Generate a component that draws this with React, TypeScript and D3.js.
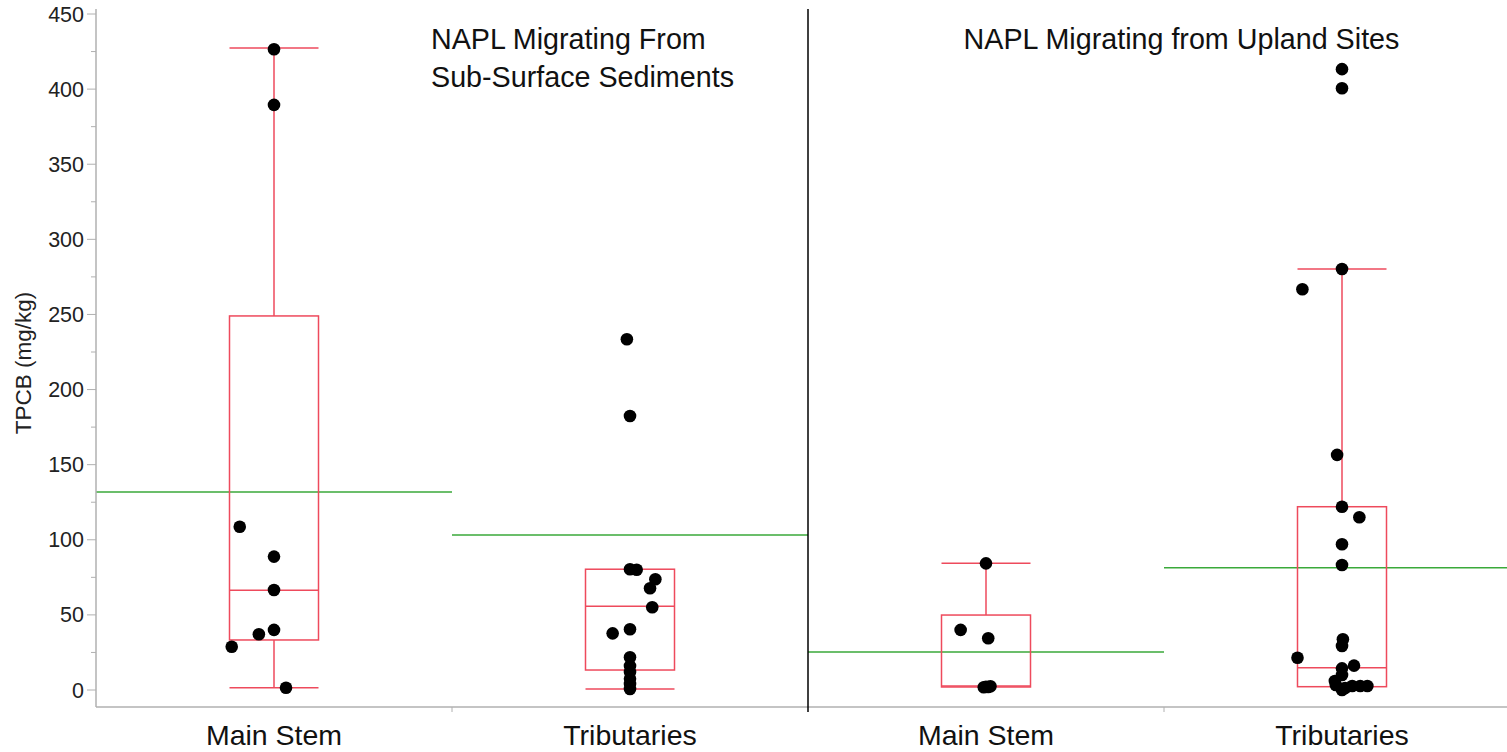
import React, { useEffect, useRef } from "react";
import * as d3 from "d3";

// categories (two panels x two groups)
const groups = ["subMain", "subTrib", "upMain", "upTrib"];
const groupLabels = ["Main Stem", "Tributaries", "Main Stem", "Tributaries"];

// observed TPCB values (mg/kg) and horizontal jitter (in box half-widths)
const subMainValues = [426.5, 389.5, 108.7, 88.8, 66.6, 40, 37.1, 28.8, 1.5];
const subMainJitter = [0, 0, -0.77, 0, 0, 0, -0.34, -0.95, 0.27];

const subTribValues = [233.5, 182.4, 80.4, 80, 73.7, 67.7, 55.1, 37.7, 40.4, 21.8, 16, 12, 7.5, 4, 0.7];
const subTribJitter = [-0.07, 0, 0, 0.15, 0.57, 0.45, 0.5, -0.39, 0, 0, 0, 0, 0, 0, 0];

const upMainValues = [84.3, 40, 34.4, 2.2, 2.5, 2, 1.8];
const upMainJitter = [0, -0.57, 0.05, 0, 0.1, 0.05, -0.05];

const upTribValues = [
  413.3, 400.6, 280.3, 266.8, 156.5, 122, 115, 97, 83.2, 33.8, 29.3, 21.5, 16.2, 14.4,
  10, 6, 3.3, 1.3, 2.7, 2.7, 2.7, 0,
];
const upTribJitter = [
  0, 0, 0, -0.89, -0.11, 0, 0.39, 0, 0, 0.02, 0, -1.0, 0.27, 0,
  0, -0.16, -0.14, 0.07, 0.23, 0.41, 0.57, 0,
];

// box plot summaries
const boxLow = [1.5, 0.7, 2.0, 2.2];
const boxQ1 = [33.3, 13.3, 2.0, 2.2];
const boxMedian = [66.4, 55.7, 2.6, 14.8];
const boxQ3 = [249, 80.4, 49.9, 122];
const boxHigh = [427.4, 80.4, 84.3, 280.3];

// group means (green lines)
const groupMeans = [131.8, 103.2, 25.3, 81.3];

const yTicks = [0, 50, 100, 150, 200, 250, 300, 350, 400, 450];
const yMinorTicks = [25, 75, 125, 175, 225, 275, 325, 375, 425];

export default function App() {
  const ref = useRef<SVGSVGElement>(null);
  const width = 1507;
  const height = 752;
  const margin = { top: 9, left: 96, bottomAxis: 707 };

  useEffect(() => {
    const svg = d3.select(ref.current);
    svg.selectAll("*").remove();

    const font = "'Liberation Sans', Arial, sans-serif";
    const red = "#ee4a5c";
    const green = "#3aa93a";
    const axisGray = "#b0b0b0";

    const x = d3.scaleBand().domain(groups).range([margin.left, 1520]).padding(0);
    const y = d3.scaleLinear().domain([0, 450]).range([690, 14]);
    const bw = x.bandwidth();
    const boxW = bw * 0.25;

    const values = [subMainValues, subTribValues, upMainValues, upTribValues];
    const jitter = [subMainJitter, subTribJitter, upMainJitter, upTribJitter];

    // mean lines
    svg
      .selectAll("line.mean")
      .data(groups)
      .enter()
      .append("line")
      .attr("x1", (d) => x(d)!)
      .attr("x2", (d) => x(d)! + bw)
      .attr("y1", (d, i) => y(groupMeans[i]))
      .attr("y2", (d, i) => y(groupMeans[i]))
      .attr("stroke", green)
      .attr("stroke-width", 1.5);

    // box plots
    groups.forEach((g, i) => {
      const cx = x(g)! + bw / 2;
      const box = svg.append("g").attr("fill", "none").attr("stroke", red).attr("stroke-width", 1.5);
      box
        .append("rect")
        .attr("x", cx - boxW / 2)
        .attr("y", y(boxQ3[i]))
        .attr("width", boxW)
        .attr("height", y(boxQ1[i]) - y(boxQ3[i]));
      box
        .append("line")
        .attr("x1", cx - boxW / 2)
        .attr("x2", cx + boxW / 2)
        .attr("y1", y(boxMedian[i]))
        .attr("y2", y(boxMedian[i]));
      if (boxHigh[i] > boxQ3[i]) {
        box.append("line").attr("x1", cx).attr("x2", cx).attr("y1", y(boxQ3[i])).attr("y2", y(boxHigh[i]));
        box
          .append("line")
          .attr("x1", cx - boxW / 2)
          .attr("x2", cx + boxW / 2)
          .attr("y1", y(boxHigh[i]))
          .attr("y2", y(boxHigh[i]));
      }
      if (boxLow[i] < boxQ1[i]) {
        box.append("line").attr("x1", cx).attr("x2", cx).attr("y1", y(boxQ1[i])).attr("y2", y(boxLow[i]));
        box
          .append("line")
          .attr("x1", cx - boxW / 2)
          .attr("x2", cx + boxW / 2)
          .attr("y1", y(boxLow[i]))
          .attr("y2", y(boxLow[i]));
      }

      // points
      svg
        .append("g")
        .selectAll("circle")
        .data(values[i])
        .enter()
        .append("circle")
        .attr("cx", (d, j) => cx + jitter[i][j] * (boxW / 2))
        .attr("cy", (d) => y(d))
        .attr("r", 6.3)
        .attr("fill", "#000");
    });

    // y axis
    const yAxis = svg.append("g").attr("stroke", axisGray);
    yAxis
      .append("line")
      .attr("x1", margin.left)
      .attr("x2", margin.left)
      .attr("y1", margin.top)
      .attr("y2", margin.bottomAxis)
      .attr("stroke-width", 1.5);
    yAxis
      .selectAll("line.major")
      .data(yTicks)
      .enter()
      .append("line")
      .attr("x1", margin.left - 9)
      .attr("x2", margin.left)
      .attr("y1", (d) => y(d))
      .attr("y2", (d) => y(d));
    yAxis
      .selectAll("line.minor")
      .data(yMinorTicks)
      .enter()
      .append("line")
      .attr("x1", margin.left - 5)
      .attr("x2", margin.left)
      .attr("y1", (d) => y(d))
      .attr("y2", (d) => y(d));
    svg
      .append("g")
      .selectAll("text")
      .data(yTicks)
      .enter()
      .append("text")
      .attr("x", margin.left - 12)
      .attr("y", (d) => y(d))
      .attr("dy", "0.35em")
      .attr("text-anchor", "end")
      .style("font-family", font)
      .style("font-size", "21.5px")
      .attr("fill", "#222")
      .text((d) => d);
    svg
      .append("text")
      .attr("transform", `translate(31, 363) rotate(-90)`)
      .attr("text-anchor", "middle")
      .style("font-family", font)
      .style("font-size", "22.5px")
      .attr("fill", "#222")
      .text("TPCB (mg/kg)");

    // x axis
    svg
      .append("line")
      .attr("x1", margin.left)
      .attr("x2", width)
      .attr("y1", margin.bottomAxis)
      .attr("y2", margin.bottomAxis)
      .attr("stroke", axisGray)
      .attr("stroke-width", 1.5);
    svg
      .selectAll("line.xtick")
      .data([groups[1], groups[3]])
      .enter()
      .append("line")
      .attr("x1", (d) => x(d)!)
      .attr("x2", (d) => x(d)!)
      .attr("y1", margin.bottomAxis)
      .attr("y2", margin.bottomAxis + 5)
      .attr("stroke", axisGray);
    svg
      .append("g")
      .selectAll("text")
      .data(groups)
      .enter()
      .append("text")
      .attr("x", (d) => x(d)! + bw / 2)
      .attr("y", 745)
      .attr("text-anchor", "middle")
      .style("font-family", font)
      .style("font-size", "28.5px")
      .attr("fill", "#111")
      .text((d, i) => groupLabels[i]);

    // panel divider
    svg
      .append("line")
      .attr("x1", x(groups[2])!)
      .attr("x2", x(groups[2])!)
      .attr("y1", margin.top)
      .attr("y2", margin.bottomAxis + 5)
      .attr("stroke", "#000")
      .attr("stroke-width", 1.5);

    // panel titles
    const t1 = svg
      .append("text")
      .style("font-family", font)
      .style("font-size", "28.7px")
      .attr("fill", "#111");
    t1.append("tspan").attr("x", 431).attr("y", 49).text("NAPL Migrating From");
    t1.append("tspan").attr("x", 431).attr("y", 87).text("Sub-Surface Sediments");
    svg
      .append("text")
      .attr("x", (x(groups[2])! + width) / 2 + 24)
      .attr("y", 49)
      .attr("text-anchor", "middle")
      .style("font-family", font)
      .style("font-size", "28.7px")
      .attr("fill", "#111")
      .text("NAPL Migrating from Upland Sites");
  });

  return (
    <svg
      ref={ref}
      width={width}
      height={height}
      style={{ position: "absolute", left: 0, top: 0, background: "#fff" }}
    />
  );
}
